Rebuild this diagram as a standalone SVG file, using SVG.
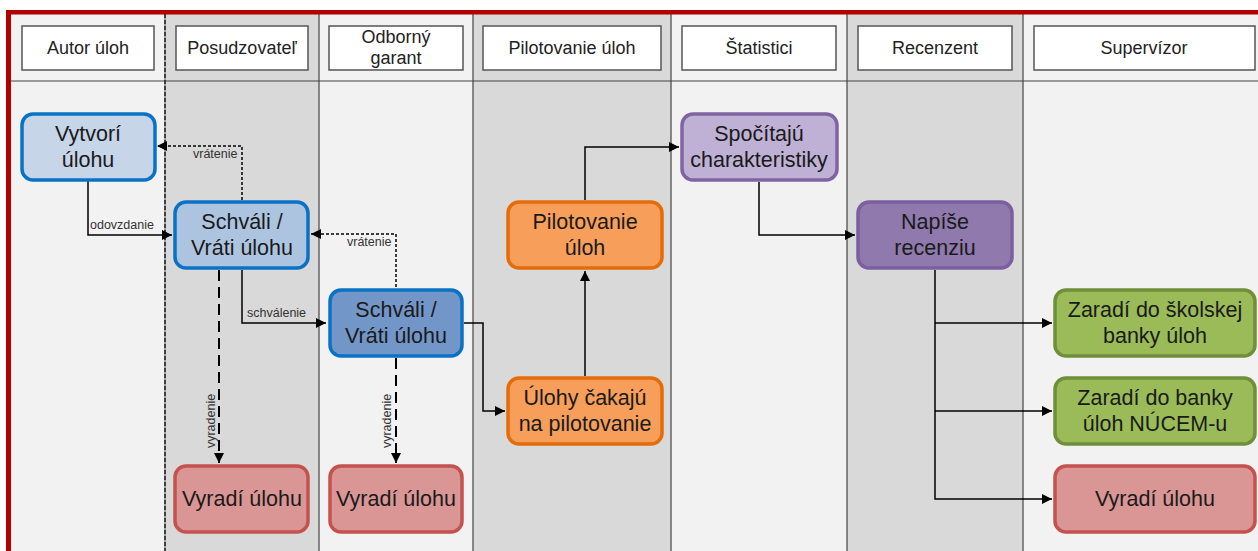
<svg xmlns="http://www.w3.org/2000/svg" width="1258" height="551" viewBox="0 0 1258 551">
<defs>
<style>
.lane-l{fill:#f2f2f2}
.lane-d{fill:#d9d9d9}
.sep{stroke:#444;stroke-width:1.2;fill:none}
.hdr{fill:#fff;stroke:#555;stroke-width:1.5}
.ht{font-family:"Liberation Sans",Arial,sans-serif;font-size:18px;fill:#222;text-anchor:middle}
.nt{font-family:"Liberation Sans",Arial,sans-serif;font-size:21.5px;fill:#1a1a1a;text-anchor:middle}
.lbl{font-family:"Liberation Sans",Arial,sans-serif;font-size:12.5px;fill:#333}
.n{stroke-width:3.5}
.blue1{fill:#c6d5e8;stroke:#0a72c4}
.blue2{fill:#adc4e1;stroke:#0a72c4}
.blue3{fill:#7396c9;stroke:#0a72c4}
.red{fill:#da9694;stroke:#c4524f}
.orange{fill:#f79f5a;stroke:#e46c0a}
.lilac{fill:#bfb1d5;stroke:#8064a2}
.purple{fill:#9079ad;stroke:#7b5fa0}
.green{fill:#9bbb59;stroke:#6f8f3a}
.c{fill:none;stroke:#000;stroke-width:1.5}
.dot{fill:none;stroke:#000;stroke-width:1.5;stroke-dasharray:3 2}
.dash{fill:none;stroke:#000;stroke-width:2;stroke-dasharray:11 6}
</style>
<marker id="ah" viewBox="0 0 10 10" refX="10" refY="5" markerWidth="10" markerHeight="10" markerUnits="userSpaceOnUse" orient="auto">
<path d="M0,0 L10,5 L0,10 z" fill="#000"/>
</marker>
</defs>

<g id="lanes">
<rect class="lane-l" x="11" y="14" width="154" height="537"/>
<rect class="lane-d" x="165" y="14" width="154" height="537"/>
<rect class="lane-l" x="319" y="14" width="154" height="537"/>
<rect class="lane-d" x="473" y="14" width="198" height="537"/>
<rect class="lane-l" x="671" y="14" width="176" height="537"/>
<rect class="lane-d" x="847" y="14" width="176" height="537"/>
<rect class="lane-l" x="1023" y="14" width="235" height="537"/>
<line class="sep" x1="11" y1="81" x2="1258" y2="81"/>
<line x1="165" y1="14" x2="165" y2="551" stroke="#888" stroke-width="1.5"/>
<line x1="165" y1="14" x2="165" y2="551" stroke="#222" stroke-width="1.5" stroke-dasharray="4 2"/>
<line class="sep" x1="319" y1="14" x2="319" y2="551"/>
<line class="sep" x1="473" y1="14" x2="473" y2="551"/>
<line class="sep" x1="671" y1="14" x2="671" y2="551"/>
<line class="sep" x1="847" y1="14" x2="847" y2="551"/>
<line class="sep" x1="1023" y1="14" x2="1023" y2="551"/>
<rect x="6" y="10" width="1252" height="4.5" fill="#b00000"/>
<rect x="6" y="10" width="5" height="541" fill="#b00000"/>
</g>

<g id="headers">
<g id="h-autor"><rect class="hdr" x="22" y="26" width="132" height="44"/><text class="ht" x="88" y="54">Autor úloh</text></g>
<g id="h-posud"><rect class="hdr" x="176" y="26" width="132" height="44"/><text class="ht" x="242" y="54">Posudzovateľ</text></g>
<g id="h-garant"><rect class="hdr" x="329" y="26" width="134" height="44"/><text class="ht" x="396" y="43">Odborný</text><text class="ht" x="396" y="64">garant</text></g>
<g id="h-pilot"><rect class="hdr" x="483" y="26" width="178" height="44"/><text class="ht" x="572" y="54">Pilotovanie úloh</text></g>
<g id="h-stat"><rect class="hdr" x="682" y="26" width="154" height="44"/><text class="ht" x="759" y="54">Štatistici</text></g>
<g id="h-recenzent"><rect class="hdr" x="858" y="26" width="154" height="44"/><text class="ht" x="935" y="54">Recenzent</text></g>
<g id="h-supervizor"><rect class="hdr" x="1034" y="26" width="221" height="44"/><text class="ht" x="1144" y="54">Supervízor</text></g>
</g>

<g id="connectors">
<path class="c" d="M88,181 V235 H172" marker-end="url(#ah)"/>
<text class="lbl" x="90" y="229">odovzdanie</text>
<path class="dot" d="M242,200 V146 H157" marker-end="url(#ah)"/>
<text class="lbl" x="193" y="158">vrátenie</text>
<path class="c" d="M242,270 V323 H326" marker-end="url(#ah)"/>
<text class="lbl" x="247" y="317">schválenie</text>
<path class="dot" d="M396,287 V234 H311" marker-end="url(#ah)"/>
<text class="lbl" x="347" y="246">vrátenie</text>
<path class="dash" d="M219,270 V463" marker-end="url(#ah)"/>
<text class="lbl" transform="translate(215,421) rotate(-90)" text-anchor="middle">vyradenie</text>
<path class="dash" d="M396,358 V463" marker-end="url(#ah)"/>
<text class="lbl" transform="translate(391,421) rotate(-90)" text-anchor="middle">vyradenie</text>
<path class="c" d="M464,323 H483 V411 H505" marker-end="url(#ah)"/>
<path class="c" d="M585,376 V271" marker-end="url(#ah)"/>
<path class="c" d="M585,200 V147 H679" marker-end="url(#ah)"/>
<path class="c" d="M759,182 V235 H855" marker-end="url(#ah)"/>
<path class="c" d="M935,270 V499 H1052" marker-end="url(#ah)"/>
<path class="c" d="M935,323 H1052" marker-end="url(#ah)"/>
<path class="c" d="M935,411 H1052" marker-end="url(#ah)"/>
</g>

<g id="n-vytvori"><rect class="n blue1" x="22" y="114" width="133" height="66" rx="11"/><text class="nt" x="88" y="141">Vytvorí</text><text class="nt" x="88" y="167">úlohu</text></g>
<g id="n-schvali1"><rect class="n blue2" x="175" y="202" width="133" height="66" rx="11"/><text class="nt" x="242" y="229">Schváli /</text><text class="nt" x="242" y="255">Vráti úlohu</text></g>
<g id="n-schvali2"><rect class="n blue3" x="330" y="290" width="132" height="66" rx="11"/><text class="nt" x="396" y="317">Schváli /</text><text class="nt" x="396" y="343">Vráti úlohu</text></g>
<g id="n-vyradi1"><rect class="n red" x="175" y="466" width="133" height="66" rx="11"/><text class="nt" x="242" y="506">Vyradí úlohu</text></g>
<g id="n-vyradi2"><rect class="n red" x="330" y="466" width="132" height="66" rx="11"/><text class="nt" x="396" y="506">Vyradí úlohu</text></g>
<g id="n-pilotovanie"><rect class="n orange" x="508" y="202" width="154" height="66" rx="11"/><text class="nt" x="585" y="229">Pilotovanie</text><text class="nt" x="585" y="255">úloh</text></g>
<g id="n-cakaju"><rect class="n orange" x="508" y="378" width="154" height="66" rx="11"/><text class="nt" x="585" y="405">Úlohy čakajú</text><text class="nt" x="585" y="431">na pilotovanie</text></g>
<g id="n-spocitaju"><rect class="n lilac" x="682" y="114" width="155" height="66" rx="11"/><text class="nt" x="759" y="141">Spočítajú</text><text class="nt" x="759" y="167">charakteristiky</text></g>
<g id="n-napise"><rect class="n purple" x="858" y="202" width="154" height="66" rx="11"/><text class="nt" x="935" y="229">Napíše</text><text class="nt" x="935" y="255">recenziu</text></g>
<g id="n-skolska"><rect class="n green" x="1055" y="290" width="200" height="66" rx="11"/><text class="nt" x="1155" y="317">Zaradí do školskej</text><text class="nt" x="1155" y="343">banky úloh</text></g>
<g id="n-nucem"><rect class="n green" x="1055" y="378" width="200" height="66" rx="11"/><text class="nt" x="1155" y="405">Zaradí do banky</text><text class="nt" x="1155" y="431">úloh NÚCEM-u</text></g>
<g id="n-vyradi3"><rect class="n red" x="1055" y="466" width="200" height="66" rx="11"/><text class="nt" x="1155" y="506">Vyradí úlohu</text></g>
</svg>
